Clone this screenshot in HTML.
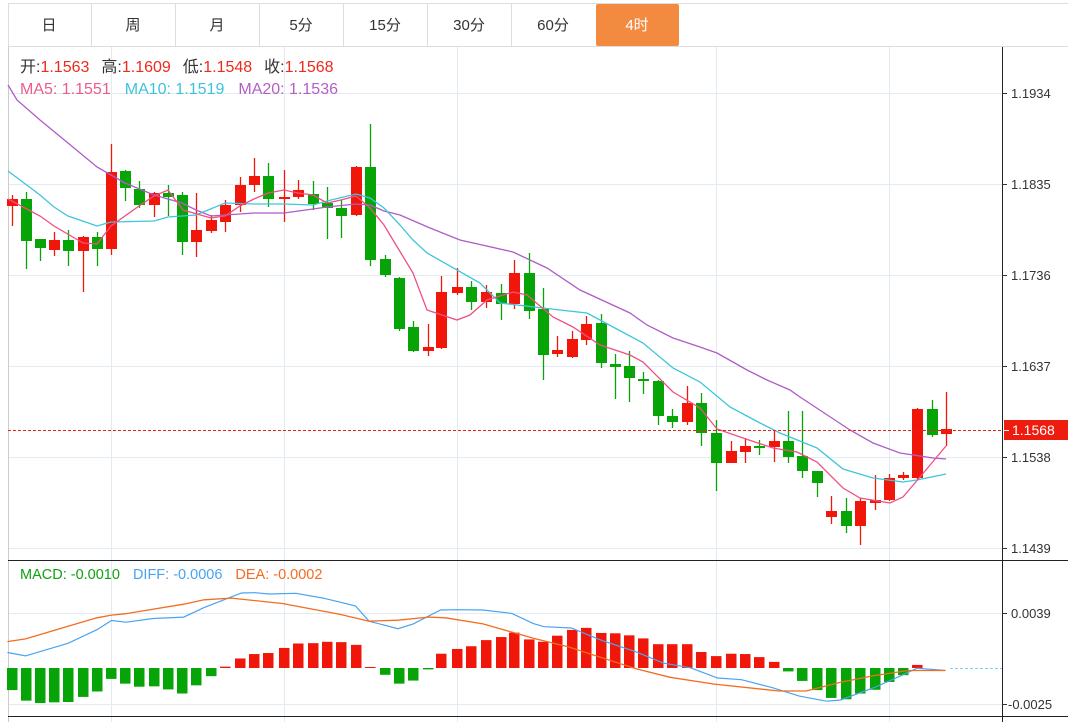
<!DOCTYPE html>
<html><head><meta charset="utf-8">
<style>
body{margin:0;background:#fff;width:1068px;height:722px;overflow:hidden;font-family:"Liberation Sans","Noto Sans CJK SC",sans-serif;}
</style></head>
<body>
<svg id="s" width="1068" height="722" xmlns="http://www.w3.org/2000/svg" font-family="Liberation Sans, Noto Sans CJK SC, sans-serif">
<rect x="0" y="0" width="1068" height="722" fill="#fff"/>
<line x1="8" y1="3.5" x2="1068" y2="3.5" stroke="#ddd"/>
<line x1="8" y1="46.5" x2="1068" y2="46.5" stroke="#ddd"/>
<rect x="596" y="4" width="83" height="42" rx="2" fill="#f28b40"/>
<g stroke="#ddd">
<line x1="8.5" y1="3" x2="8.5" y2="46"/><line x1="91.5" y1="3" x2="91.5" y2="46"/><line x1="175.5" y1="3" x2="175.5" y2="46"/><line x1="259.5" y1="3" x2="259.5" y2="46"/><line x1="343.5" y1="3" x2="343.5" y2="46"/><line x1="427.5" y1="3" x2="427.5" y2="46"/><line x1="511.5" y1="3" x2="511.5" y2="46"/>
</g>
<g font-size="15" fill="#333" text-anchor="middle">
<text x="49" y="30">日</text><text x="133" y="30">周</text><text x="217" y="30">月</text><text x="301" y="30">5分</text><text x="385" y="30">15分</text><text x="469" y="30">30分</text><text x="553" y="30">60分</text><text x="637" y="30" fill="#fff">4时</text>
</g>
<g stroke="#e3ebf2" stroke-width="1">
<line x1="8" y1="93.5" x2="1002" y2="93.5"/><line x1="8" y1="184.5" x2="1002" y2="184.5"/><line x1="8" y1="275.5" x2="1002" y2="275.5"/><line x1="8" y1="366.5" x2="1002" y2="366.5"/><line x1="8" y1="457.5" x2="1002" y2="457.5"/><line x1="8" y1="548.5" x2="1002" y2="548.5"/>
<line x1="8" y1="613.5" x2="1002" y2="613.5"/><line x1="8" y1="704.5" x2="1002" y2="704.5"/>
<line x1="111.5" y1="47" x2="111.5" y2="722"/><line x1="284.5" y1="47" x2="284.5" y2="722"/><line x1="457.5" y1="47" x2="457.5" y2="722"/><line x1="716.5" y1="47" x2="716.5" y2="722"/><line x1="889.5" y1="47" x2="889.5" y2="722"/>
</g>
<line x1="8.5" y1="47" x2="8.5" y2="722" stroke="#ccc"/>
<line x1="1002.5" y1="47" x2="1002.5" y2="722" stroke="#222"/>
<line x1="8" y1="560.5" x2="1068" y2="560.5" stroke="#222"/>
<line x1="8" y1="716.5" x2="1068" y2="716.5" stroke="#222"/>
<g id="cd"></g>
<g id="mc"></g>
<line x1="8" y1="430.5" x2="1002" y2="430.5" stroke="#e3241b" stroke-dasharray="3,2"/>
<line x1="950" y1="668.5" x2="1002" y2="668.5" stroke="#7fd0f0" stroke-dasharray="3,2"/>
<g stroke="#333"><line x1="1002" y1="93.5" x2="1007" y2="93.5"/><line x1="1002" y1="184.5" x2="1007" y2="184.5"/><line x1="1002" y1="275.5" x2="1007" y2="275.5"/><line x1="1002" y1="366.5" x2="1007" y2="366.5"/><line x1="1002" y1="457.5" x2="1007" y2="457.5"/><line x1="1002" y1="548.5" x2="1007" y2="548.5"/><line x1="1002" y1="613.5" x2="1007" y2="613.5"/><line x1="1002" y1="704.5" x2="1007" y2="704.5"/></g>
<g font-size="13" fill="#333">
<text x="1011" y="98">1.1934</text><text x="1011" y="189">1.1835</text><text x="1011" y="280">1.1736</text><text x="1011" y="371">1.1637</text><text x="1011" y="462">1.1538</text><text x="1011" y="553">1.1439</text>
<text x="1011" y="618">0.0039</text><text x="1008" y="709">-0.0025</text>
</g>
<rect x="1004" y="420" width="64" height="20" fill="#ee1c0e"/>
<line x1="1004" y1="430.5" x2="1009" y2="430.5" stroke="#fff"/>
<text x="1012" y="435" font-size="14" fill="#fff">1.1568</text>
<g font-size="16">
<text x="20" y="72" fill="#333">开:<tspan fill="#ee2a1c">1.1563</tspan><tspan fill="#333" dx="12">高:</tspan><tspan fill="#ee2a1c">1.1609</tspan><tspan fill="#333" dx="12">低:</tspan><tspan fill="#ee2a1c">1.1548</tspan><tspan fill="#333" dx="12">收:</tspan><tspan fill="#ee2a1c">1.1568</tspan></text>
<text x="20" y="94" fill="#ec5c8c">MA5: 1.1551<tspan fill="#3cc3dc" dx="14">MA10: 1.1519</tspan><tspan fill="#b45ec8" dx="14">MA20: 1.1536</tspan></text>
</g>
<text x="20" y="579" font-size="14.5" fill="#12a012">MACD: -0.0010<tspan fill="#4aa3f0" dx="13">DIFF: -0.0006</tspan><tspan fill="#f36c21" dx="13">DEA: -0.0002</tspan></text>
</svg>
<script>
var NS="http://www.w3.org/2000/svg";
function el(p,t,a){var e=document.createElementNS(NS,t);for(var k in a)e.setAttribute(k,a[k]);p.appendChild(e);return e;}
var R="#f0170a",G="#06a406";
var C=[[12,199,206,195,226,R],[26,199,241,192,269,G],[40,239,248,239,261,G],[54,240,250,232,256,R],[68,240,251,230,266,G],[83,237,251,236,292,R],[97,237,249,232,266,G],[111,172,249,144,255,R],[125,171,188,170,201,G],[139,189,205,181,208,G],[154,193,205,192,217,R],[168,193,197,185,216,G],[182,195,242,192,255,G],[196,230,242,193,257,R],[211,220,231,215,233,R],[225,205,222,200,232,R],[240,185,205,177,212,R],[254,176,185,158,192,R],[268,176,199,163,207,G],[284,197,199,170,222,R],[298,190,197,180,199,R],[313,194,204,181,210,G],[327,203,208,187,239,G],[341,208,216,200,238,G],[356,167,215,166,216,R],[370,167,260,124,266,G],[385,259,275,255,277,G],[399,278,329,277,331,G],[413,327,351,321,352,G],[428,347,351,324,356,R],[441,292,348,276,349,R],[457,287,293,268,295,R],[471,287,302,281,310,G],[486,292,302,285,308,R],[501,293,304,284,320,G],[514,273,304,260,309,R],[529,273,311,253,319,G],[543,309,355,288,380,G],[557,350,354,336,357,R],[572,339,357,331,358,R],[586,324,340,316,345,R],[601,323,363,314,368,G],[615,364,367,354,399,G],[629,366,378,351,402,G],[643,379,381,372,394,G],[658,381,416,380,425,G],[672,416,422,409,428,G],[687,403,422,386,425,R],[701,403,433,393,446,G],[716,433,463,420,491,G],[731,451,463,441,463,R],[745,446,452,438,463,R],[759,446,448,440,455,G],[774,441,447,430,462,R],[788,441,457,411,463,G],[802,456,471,411,478,G],[817,471,483,471,497,G],[831,511,517,496,524,R],[846,511,526,498,533,G],[860,501,526,498,545,R],[875,500,503,475,510,R],[889,478,500,474,501,R],[903,475,478,472,480,R],[917,409,478,408,480,R],[932,409,435,400,437,G],[946,429,434,392,446,R]];
var g=document.getElementById("cd");
C.forEach(function(c){
 el(g,"line",{x1:c[0]+0.5,x2:c[0]+0.5,y1:c[3],y2:c[4],stroke:c[5],"stroke-width":1.3});
 el(g,"rect",{x:c[0]-5,y:c[1],width:11,height:Math.max(2,c[2]-c[1]),fill:c[5]});
});
function pl(p,pts,col,w){el(p,"polyline",{points:pts.map(function(q){return q.join(",")}).join(" "),fill:"none",stroke:col,"stroke-width":w||1.3});}
pl(g,[[8,85],[17,100],[40,120],[68,143],[97,167],[125,183],[154,195],[182,203],[196,210],[211,216],[225,215],[254,213],[284,213],[313,209],[327,207],[356,204],[370,205],[384,211],[400,215],[430,228],[460,240],[513,252],[547,268],[580,290],[630,313],[647,325],[673,338],[700,347],[717,353],[747,370],[767,380],[790,390],[800,397],[850,430],[873,443],[900,453],[933,458],[946,459]],"#b05cc7");
pl(g,[[8,171],[40,195],[54,207],[68,216],[97,226],[111,222],[154,221],[168,217],[196,215],[225,203],[254,204],[284,204],[313,205],[327,201],[356,194],[370,198],[384,208],[400,225],[413,240],[427,253],[480,283],[500,303],[560,310],[587,313],[613,327],[643,343],[673,368],[700,382],[730,407],[760,423],[780,433],[817,448],[843,469],[873,478],[903,482],[917,480],[946,474]],"#3ec5dd");
pl(g,[[8,199],[40,216],[54,226],[83,243],[97,244],[111,226],[139,206],[154,196],[168,190],[183,210],[211,218],[225,216],[240,206],[254,199],[268,193],[284,190],[298,193],[313,195],[327,203],[341,200],[356,196],[370,208],[384,225],[393,240],[413,273],[427,310],[457,320],[470,315],[487,300],[513,292],[527,295],[553,317],[573,327],[600,345],[630,355],[643,362],[673,392],[700,408],[717,429],[743,438],[773,448],[797,452],[817,462],[843,488],[860,498],[890,503],[903,497],[920,477],[946,446]],"#ef5082");
var V=[390,421,428,426,425,410,394,357,371,380,379,388,400,376,349,321,297,284,281,266,253,252,248,249,257,322,345,371,362,329,283,269,261,243,234,221,241,248,230,213,207,222,223,229,238,255,255,255,278,290,283,284,293,307,335,363,390,413,417,400,389,366,346,316,325,325];
var m=document.getElementById("mc");
V.forEach(function(v,i){
 var h=(v-325)/2.94; if(Math.abs(h)<0.3)return;
 var x=C[i][0];
 if(h<0) el(m,"rect",{x:x-5,y:668+h,width:10.5,height:-h,fill:R});
 else el(m,"rect",{x:x-5,y:668,width:10.5,height:h,fill:G});
});
function tr(pts,ox){return pts.map(function(q){return [ox+q[0]/2.94,(560+q[1]/2.94).toFixed(1)];});}
var diff=tr([[22,272],[75,282],[200,245],[285,205],[328,178],[370,183],[450,172],[540,168],[600,140],[710,97],[750,96],[790,100],[870,98],[950,112],[1045,135],[1085,180],[1170,202],[1215,188],[1295,147],[1340,146],[1420,147],[1505,157],[1568,187]],0).concat(tr([[30,196],[110,200],[200,237],[300,270],[380,303],[460,317],[540,347],[610,352],[700,375],[780,400],[860,415],[900,412],[1000,375],[1080,340],[1126,318],[1210,325]],534));
var dea=tr([[22,240],[75,232],[200,195],[285,170],[328,162],[370,158],[540,130],[600,117],[680,112],[830,128],[1000,160],[1085,180],[1170,177],[1260,168],[1310,170],[1420,188],[1568,230]],0).concat(tr([[100,255],[300,320],[400,345],[530,365],[720,385],[800,385],[900,360],[1000,340],[1100,325],[1210,325]],534));
pl(m,diff,"#4aa3f0",1.2);
pl(m,dea,"#f36c21",1.3);
</script>
</body></html>
